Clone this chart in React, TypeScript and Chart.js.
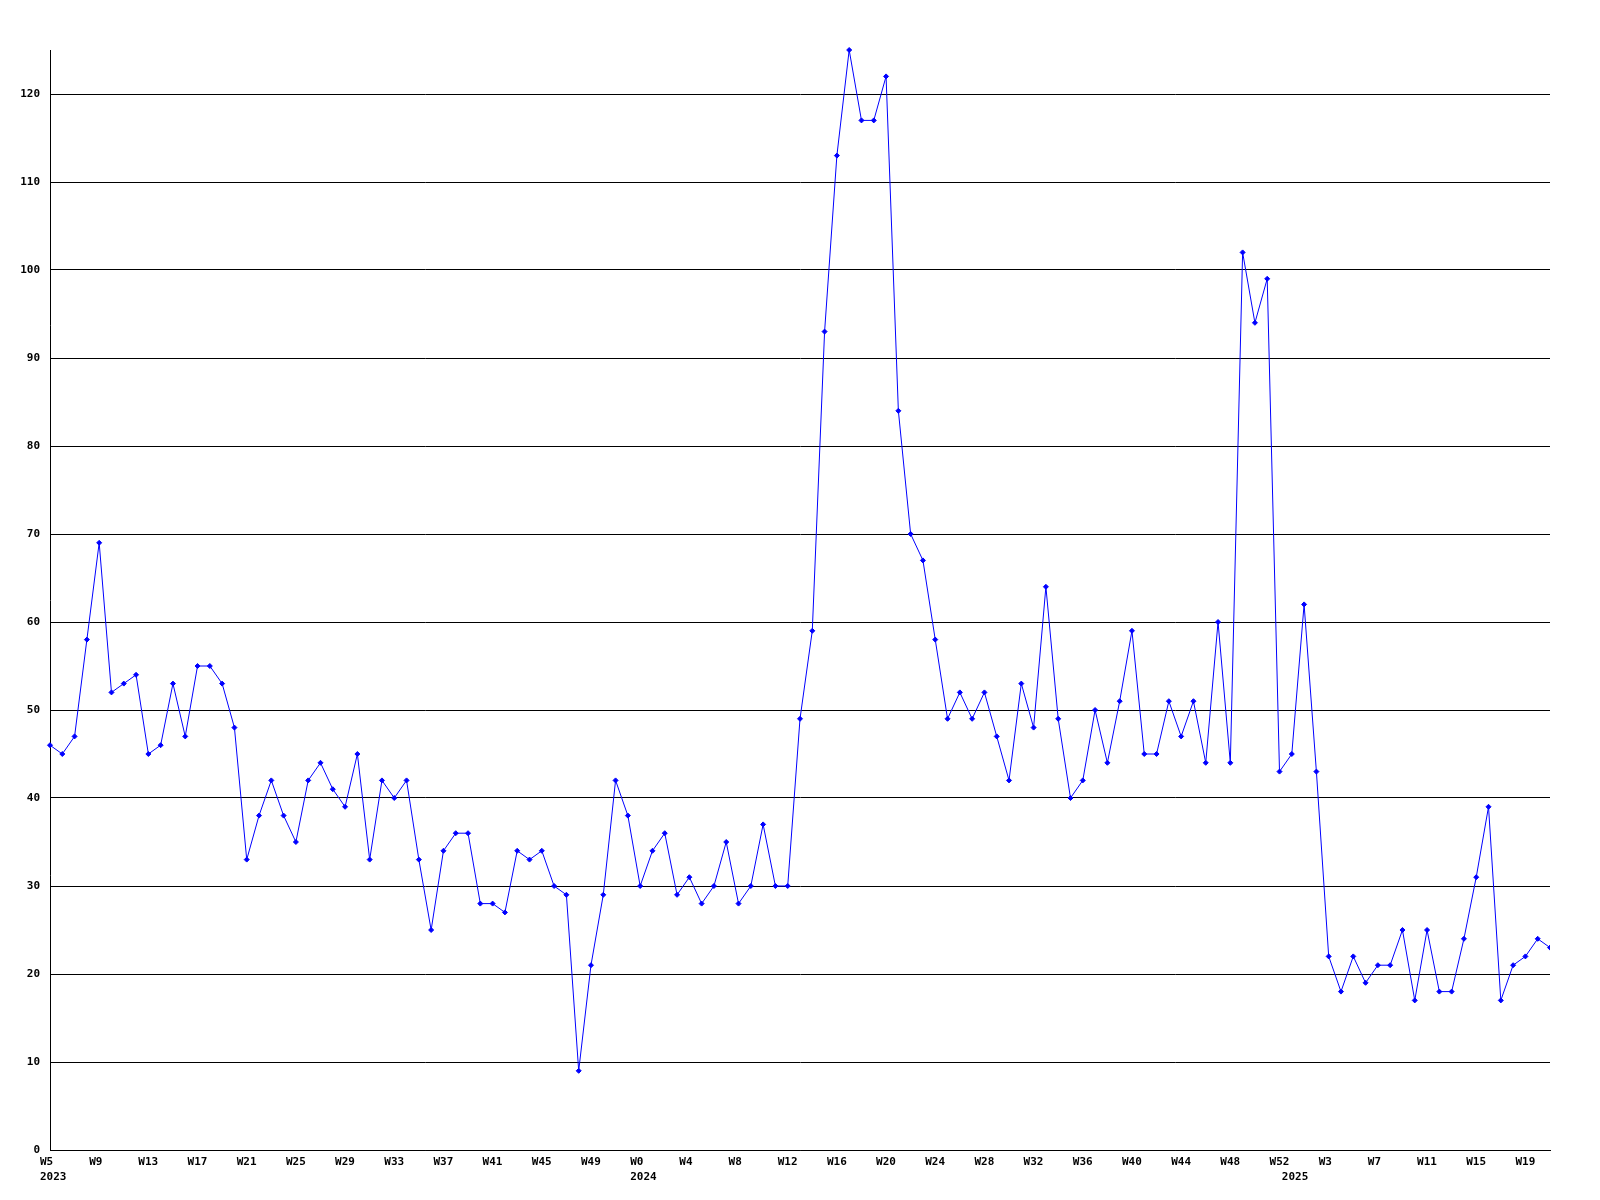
import React, { useEffect, useRef } from 'react';
import { Chart, registerables } from 'chart.js';

Chart.register(...registerables);

// Week labels per year
const weeks2023 = ['W5','W6','W7','W8','W9','W10','W11','W12','W13','W14','W15','W16','W17','W18','W19','W20','W21','W22','W23','W24','W25','W26','W27','W28','W29','W30','W31','W32','W33','W34','W35','W36','W37','W38','W39','W40','W41','W42','W43','W44','W45','W46','W47','W48','W49','W50','W51','W52'];
const weeks2024 = ['W0','W1','W2','W3','W4','W5','W6','W7','W8','W9','W10','W11','W12','W13','W14','W15','W16','W17','W18','W19','W20','W21','W22','W23','W24','W25','W26','W27','W28','W29','W30','W31','W32','W33','W34','W35','W36','W37','W38','W39','W40','W41','W42','W43','W44','W45','W46','W47','W48','W49','W50','W51','W52'];
const weeks2025 = ['W0','W1','W2','W3','W4','W5','W6','W7','W8','W9','W10','W11','W12','W13','W14','W15','W16','W17','W18','W19','W20','W21'];

// Values per year
const values2023 = [46,45,47,58,69,52,53,54,45,46,53,47,55,55,53,48,33,38,42,38,35,42,44,41,39,45,33,42,40,42,33,25,34,36,36,28,28,27,34,33,34,30,29,9,21,29,42,38];
const values2024 = [30,34,36,29,31,28,30,35,28,30,37,30,30,49,59,93,113,125,117,117,122,84,70,67,58,49,52,49,52,47,42,53,48,64,49,40,42,50,44,51,59,45,45,51,47,51,44,60,44,102,94,99,43];
const values2025 = [45,62,43,22,18,22,19,21,21,25,17,25,18,18,24,31,39,17,21,22,24,23];

const years = ['2023', '2024', '2025'];
const yTicks = [0, 10, 20, 30, 40, 50, 60, 70, 80, 90, 100, 110, 120];
const yMax = 125;

export default function App() {
  const ref = useRef<HTMLCanvasElement | null>(null);

  useEffect(() => {
    if (!ref.current) return;
    const weekGroups = [weeks2023, weeks2024, weeks2025];
    const labels: string[] = [];
    const yearOf: string[] = [];
    weekGroups.forEach((g, gi) => g.forEach((w) => { labels.push(w); yearOf.push(years[gi]); }));
    const data = [...values2023, ...values2024, ...values2025];

    const font = { family: '"DejaVu Sans Mono", monospace', size: 11, weight: 'bold' as const, lineHeight: 1.36 };

    const chart = new Chart(ref.current, {
      type: 'line',
      data: {
        labels,
        datasets: [{
          data,
          borderColor: '#0000ff',
          backgroundColor: '#0000ff',
          borderWidth: 1,
          tension: 0,
          pointStyle: 'rectRot',
          pointRadius: 2.5,
          pointBorderWidth: 1,
          pointBorderColor: '#0000ff',
          pointBackgroundColor: '#0000ff',
          fill: false,
          clip: { left: 10, top: 10, right: 0, bottom: 10 },
        }],
      },
      options: {
        animation: false,
        responsive: false,
        devicePixelRatio: 1,
        layout: { padding: { top: 50, right: 50, left: 0, bottom: 0 } },
        plugins: { legend: { display: false }, tooltip: { enabled: false }, title: { display: false } },
        scales: {
          x: {
            type: 'category',
            offset: false,
            grid: { display: false, drawTicks: false },
            border: { display: true, color: '#000', width: 1 },
            afterFit: (s: any) => { s.height = 50; },
            ticks: {
              autoSkip: false,
              maxRotation: 0,
              minRotation: 0,
              align: 'start',
              labelOffset: -10,
              padding: 5,
              color: '#000',
              font,
              callback: (_v: any, i: number) => {
                const showWeek = i % 4 === 0;
                const yearStart = i === 0 || yearOf[i] !== yearOf[i - 1];
                if (yearStart) return [showWeek ? labels[i] : '', yearOf[i]];
                if (showWeek) return labels[i];
                return '';
              },
            },
          },
          y: {
            min: 0,
            max: yMax,
            afterFit: (s: any) => { s.width = 50; },
            afterBuildTicks: (s: any) => { s.ticks = yTicks.map((v) => ({ value: v })); },
            grid: { color: '#000', lineWidth: 1, drawTicks: false },
            border: { display: true, color: '#000', width: 1 },
            ticks: { padding: 10, color: '#000', font },
          },
        },
      },
    });
    return () => chart.destroy();
  }, []);

  return (
    <div style={{ position: 'absolute', left: 0, top: 0, width: 1600, height: 1200, background: '#fff' }}>
      <canvas ref={ref} width={1600} height={1200} style={{ display: 'block', width: 1600, height: 1200 }} />
    </div>
  );
}
